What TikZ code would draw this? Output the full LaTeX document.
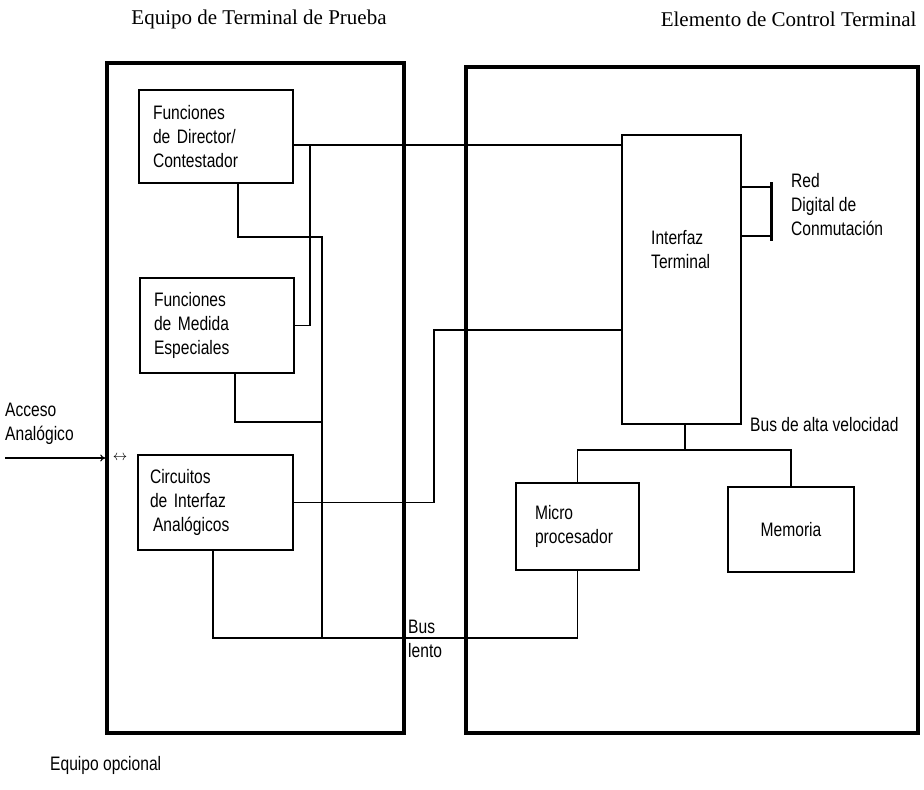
\documentclass[tikz,border=0pt]{standalone}
\usepackage{fontspec}
\setmainfont{Liberation Serif}
\newfontfamily\lblfont[FakeStretch=0.8]{Liberation Sans}
\usepackage{tikz}
\usetikzlibrary{arrows.meta,calc}

\begin{document}
\begin{tikzpicture}[x=1pt,y=-1pt,
  frame/.style={draw,line width=3.6pt,inner sep=0pt},
  blk/.style={draw,line width=1.1pt,inner xsep=14pt,inner ysep=0pt,align=left,
    font={\lblfont\fontsize{19.5}{24}\selectfont}},
  lbl/.style={inner sep=0pt,align=left,font={\lblfont\fontsize{19.5}{24}\selectfont}},
  ttl/.style={font=\fontsize{21}{24}\selectfont},
  wire/.style={line width=1.1pt},
  hwire/.style={line width=1.7pt}]
  \useasboundingbox (0,0) rectangle (924,790);
  % Titulos
  \node[ttl] (ttep) at (259,19) {Equipo de Terminal de Prueba};
  \node[ttl,anchor=east] (tect) at (920,19) {Elemento de Control Terminal};
  % Marcos
  \node[frame,minimum width=297pt,minimum height=670pt] (teq) at (255.5,398) {};
  \node[frame,minimum width=452pt,minimum height=666pt] (ctl) at (692,400) {};
  % Bloques del equipo de prueba
  \node[blk,text width=126pt,minimum height=93pt] (dir) at (216,136.5) {Funciones\\de Director/\\Contestador};
  \node[blk,text width=126pt,minimum height=95pt] (med) at (217,325.5) {Funciones\\de Medida\\Especiales};
  \node[blk,inner xsep=12pt,text width=131pt,minimum height=95pt] (circ) at (215.5,502.5) {Circuitos\\de Interfaz\\\hspace*{3pt}Analógicos};
  % Bloques del elemento de control
  \node[blk,inner sep=0pt,minimum width=119pt,minimum height=289pt] (ifz) at (681.5,279.5) {};
  \node[lbl,anchor=west] (ifzt) at (651,250) {Interfaz\\Terminal};
  \node[blk,inner xsep=19pt,text width=85pt,minimum height=87pt] (micro) at (577.5,526.5) {Micro\\procesador};
  \node[blk,align=center,text width=98pt,minimum height=85pt] (mem) at (791,529.5) {Memoria};
  % Red
  \coordinate (r1) at (771,187);
  \coordinate (r2) at (771,236);
  \draw[hwire] (ifz.east |- r1) -- (r1);
  \draw[hwire] (ifz.east |- r2) -- (r2);
  \draw[line width=3pt] ($(r1)+(0,-5)$) -- ($(r2)+(0,5)$);
  \node[lbl,anchor=west] (red) at (791,205) {Red\\Digital de\\Conmutación};
  % Conexiones internas
  \coordinate (j1) at (310,145);
  \coordinate (vb) at (322,638);
  \coordinate (d1) at (238,237);
  \coordinate (m1) at (235,422);
  \coordinate (c1) at (434,330);
  \coordinate (c2) at (213,638);
  \draw[wire] (dir.east |- j1) -- (ifz.west |- j1);
  \draw[wire] (j1) |- (med.east);
  \draw[wire] (dir.south -| d1) -- (d1) -| (vb);
  \draw[wire] (med.south -| m1) -- (m1) -- (m1 -| vb);
  \draw[wire] (circ.east) -| (c1) -- (ifz.west |- c1);
  \draw[wire] (circ.south -| c2) -- (c2) -| (micro.south);
  % Bus de alta velocidad
  \coordinate (hb) at (685,450);
  \draw[hwire] (ifz.south -| hb) -- (hb);
  \draw[hwire] (micro.north) |- (hb) -| (mem.north);
  \node[lbl,anchor=west] (bav) at (750,425) {Bus de alta velocidad};
  \node[lbl,anchor=west] (blt) at (408,639) {Bus\\lento};
  % Acceso analogico
  \coordinate (a0) at (5,458);
  \draw[wire,-{To[length=5pt,width=7pt]}] (a0) -- (teq.west |- a0);
  \node[lbl,anchor=west] (acc) at (5,424) {Acceso\\Analógico};
  \node[inner sep=0pt,font=\fontsize{14}{14}\selectfont] (bidir) at (120,458) {$\leftrightarrow$};
  \node[lbl,anchor=west] (opc) at (50,765) {Equipo opcional};
\end{tikzpicture}
\end{document}
